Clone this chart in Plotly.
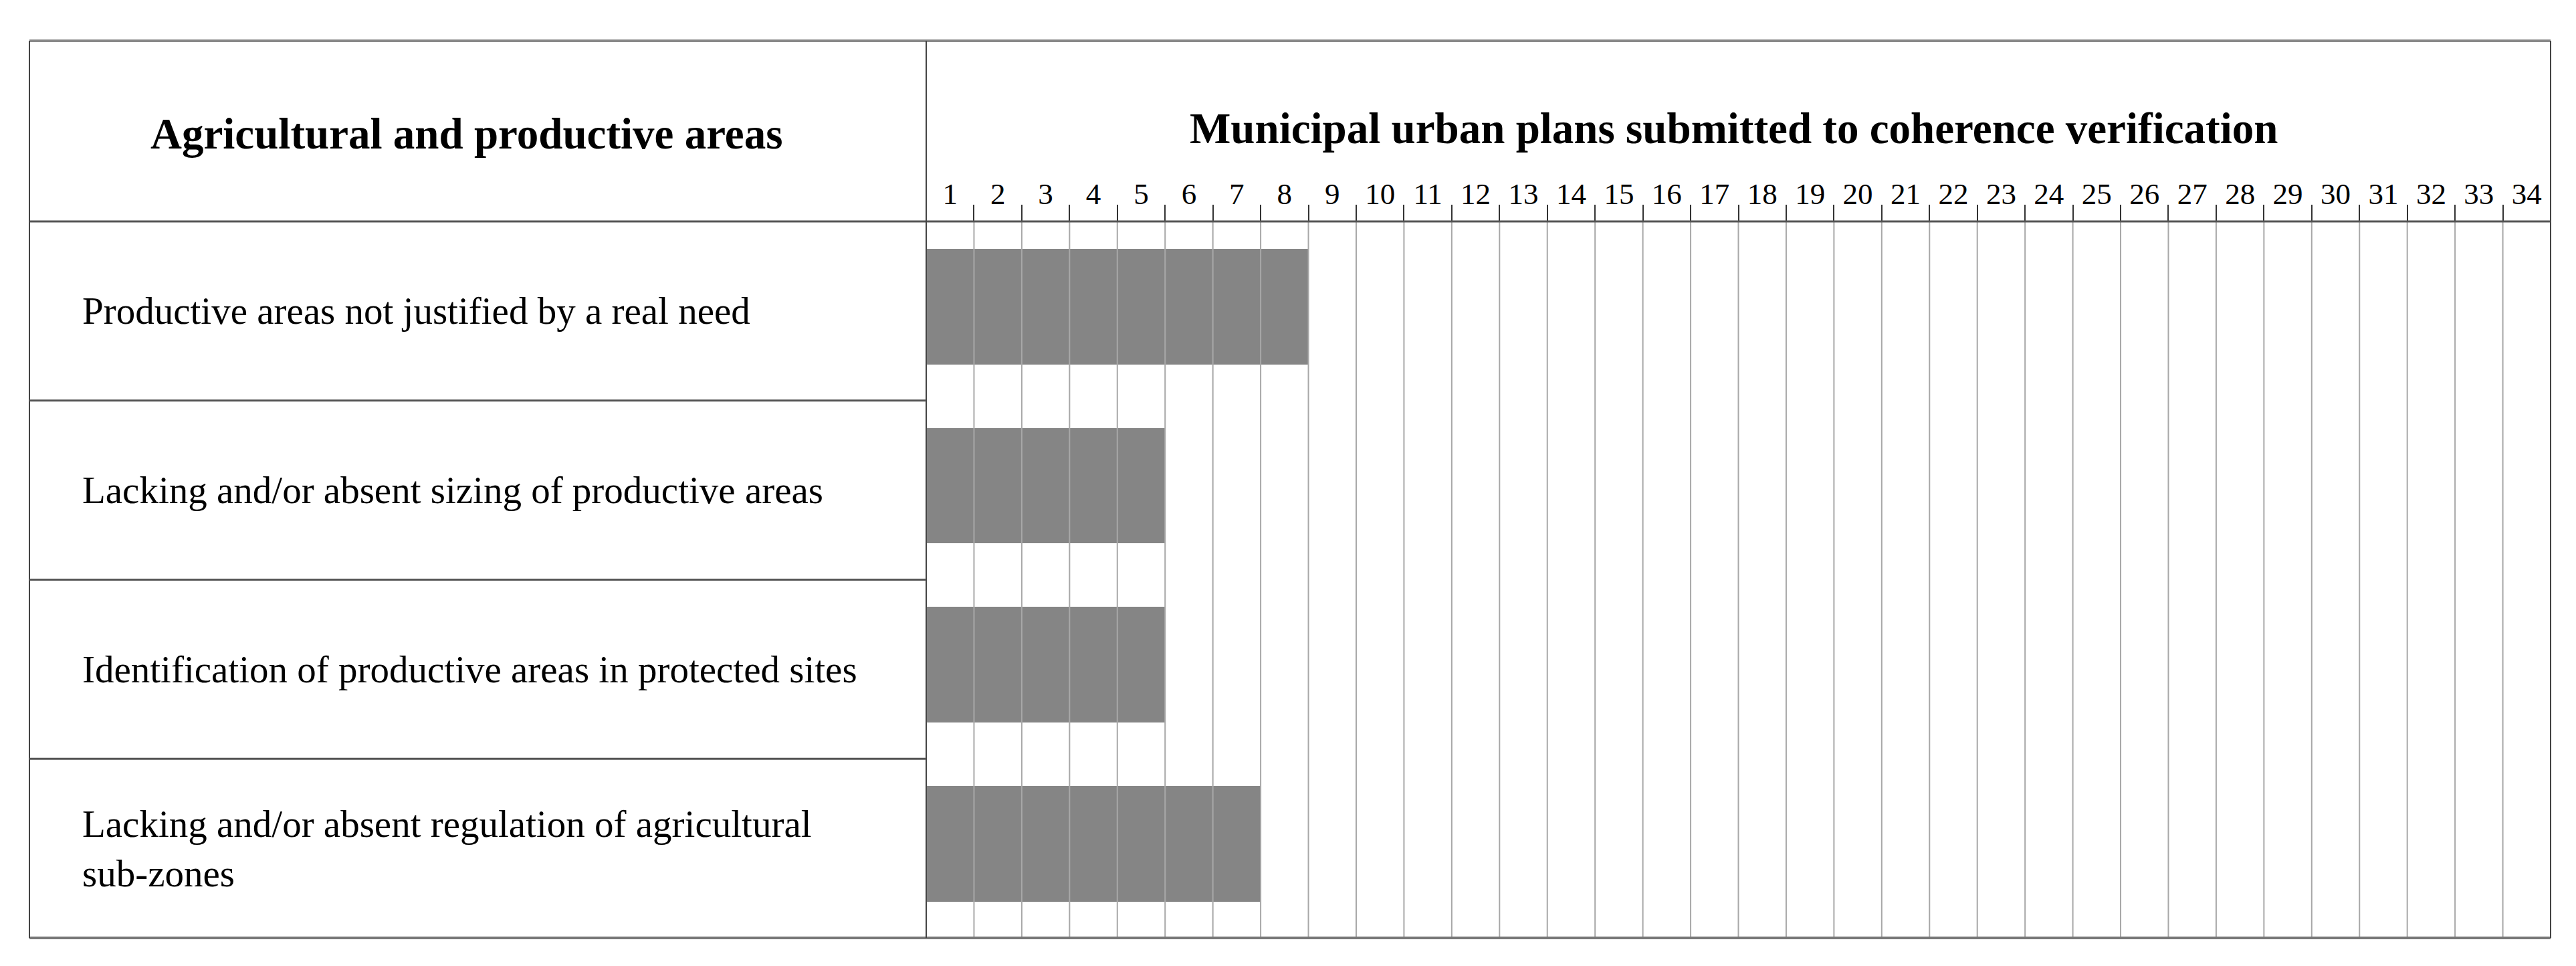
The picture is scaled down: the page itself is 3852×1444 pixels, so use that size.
import plotly.graph_objects as go

criteria = [
    "Productive areas not justified by a real need",
    "Lacking and/or absent sizing of productive areas",
    "Identification of productive areas in protected sites",
    "Lacking and/or absent regulation of agricultural<br>sub-zones",
]
plans_count = [8, 5, 5, 7]
plan_numbers = list(range(1, 35))
plan_labels = [str(n) for n in plan_numbers]

left_header = "Agricultural and productive areas"
right_header = "Municipal urban plans submitted to coherence verification"

W, H = 3852, 1444
FONT = "Liberation Serif"
PAGE_OFFSET = 8  # default body margin of the html page

# table geometry in pixels (as seen on the page)
X_LEFT, X_DIV, X_RIGHT = 44, 1385, 3814
Y_TOP, Y_HEAD, Y_BOTTOM = 61, 331, 1402


def px(x):
    return (x - PAGE_OFFSET) / W


def py(y):
    return 1 - (y - PAGE_OFFSET) / H


BAR_W = 0.645

fig = go.Figure()

fig.add_trace(
    go.Bar(
        x=plans_count,
        y=criteria,
        orientation="h",
        width=BAR_W,
        offset=-BAR_W / 2 - 0.025,
        marker=dict(color="#858585", line=dict(width=0)),
        hoverinfo="x+y",
    )
)

# invisible trace so the second (tick) axis is drawn
fig.add_trace(
    go.Scatter(x=[0, len(plan_numbers)], y=[criteria[0], criteria[0]],
               xaxis="x2", mode="markers", marker=dict(opacity=0),
               showlegend=False, hoverinfo="skip")
)

fig.update_layout(
    width=W,
    height=H,
    margin=dict(l=0, r=0, t=0, b=0),
    paper_bgcolor="white",
    plot_bgcolor="white",
    showlegend=False,
    font=dict(family=FONT, color="black"),
    bargap=0,
    xaxis=dict(
        domain=[px(X_DIV), px(X_RIGHT)],
        range=[0, len(plan_numbers)],
        side="top",
        tickvals=[n - 0.5 for n in plan_numbers],
        ticktext=plan_labels,
        ticks="",
        showgrid=False,
        zeroline=False,
        showline=False,
        tickfont=dict(family=FONT, size=45, color="black"),
        ticklabelstandoff=16,
        fixedrange=True,
    ),
    xaxis2=dict(
        overlaying="x",
        anchor="y",
        side="top",
        range=[0, len(plan_numbers)],
        tickvals=plan_numbers[:-1],
        ticks="outside",
        ticklen=24,
        tickwidth=2,
        tickcolor="#333333",
        showticklabels=False,
        showgrid=False,
        zeroline=False,
        showline=False,
    ),
    yaxis=dict(
        domain=[py(Y_BOTTOM), py(Y_HEAD)],
        type="category",
        categoryorder="array",
        categoryarray=criteria,
        range=[len(criteria) - 0.5, -0.5],
        showticklabels=False,
        showgrid=False,
        zeroline=False,
        ticks="",
    ),
)

# vertical grid lines drawn above the bars
for n in plan_numbers[:-1]:
    fig.add_shape(type="line", xref="x", yref="y domain", x0=n, x1=n, y0=0, y1=1,
                  line=dict(color="#a8a8a8", width=2), layer="above")

# table borders
line_h = dict(color="#555555", width=3)
line_v = dict(color="#444444", width=2)
fig.add_shape(type="line", xref="paper", yref="paper",
              x0=px(X_LEFT), x1=px(X_RIGHT), y0=py(Y_TOP), y1=py(Y_TOP),
              line=dict(color="#888888", width=4))
fig.add_shape(type="line", xref="paper", yref="paper",
              x0=px(X_LEFT), x1=px(X_RIGHT), y0=py(Y_HEAD), y1=py(Y_HEAD), line=line_h)
fig.add_shape(type="line", xref="paper", yref="paper",
              x0=px(X_LEFT), x1=px(X_RIGHT), y0=py(Y_BOTTOM), y1=py(Y_BOTTOM),
              line=dict(color="#777777", width=4))
for xv in (X_LEFT, X_DIV, X_RIGHT):
    fig.add_shape(type="line", xref="paper", yref="paper",
                  x0=px(xv), x1=px(xv), y0=py(Y_TOP), y1=py(Y_BOTTOM),
                  line=line_v, layer="above")

# row dividers in the left column only
for i in range(len(criteria) - 1):
    fig.add_shape(type="line", xref="paper", yref="y",
                  x0=px(X_LEFT), x1=px(X_DIV), y0=i + 0.5, y1=i + 0.5, line=line_h)

# headers
fig.add_annotation(text="<b>" + left_header + "</b>", xref="paper", yref="paper",
                   x=px(698), y=py(200), xanchor="center", yanchor="middle",
                   showarrow=False, font=dict(family=FONT, size=65, color="black"))
fig.add_annotation(text="<b>" + right_header + "</b>", xref="paper", yref="paper",
                   x=px(2592), y=py(192), xanchor="center", yanchor="middle",
                   showarrow=False, font=dict(family=FONT, size=65, color="black"))

# row labels
for c in criteria:
    fig.add_annotation(text=c, xref="paper", yref="y", x=px(121), y=c,
                       xanchor="left", align="left", showarrow=False,
                       font=dict(family=FONT, size=57, color="black"))

fig.write_html("out.html")
